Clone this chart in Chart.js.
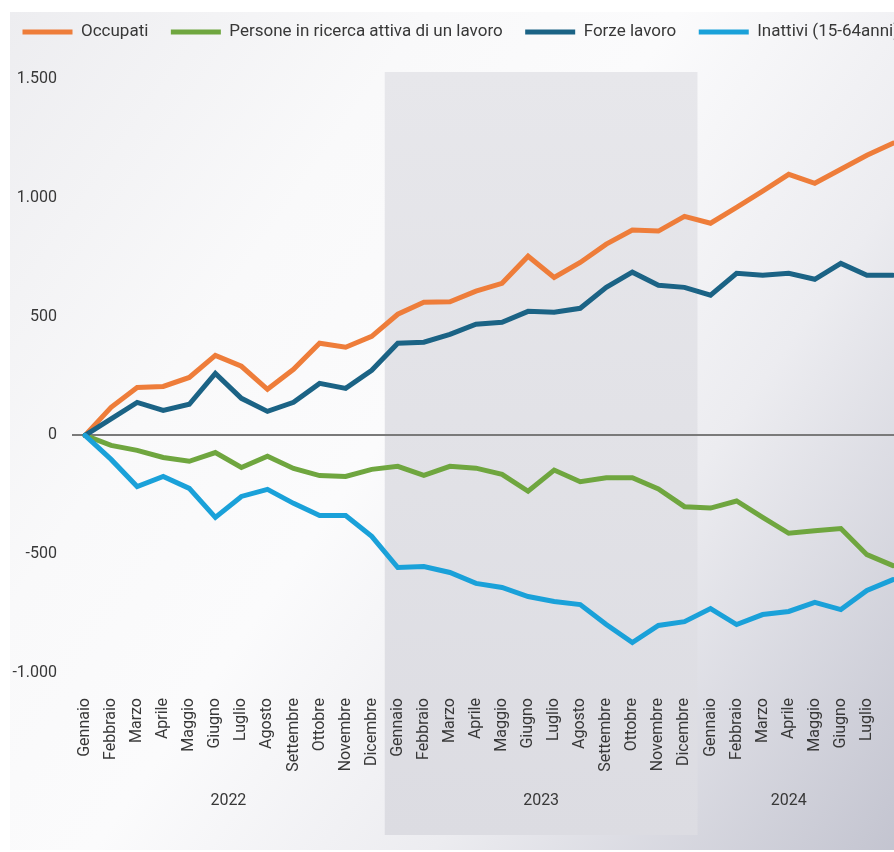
<!DOCTYPE html>
<html lang="it">
<head>
<meta charset="utf-8">
<title>Occupati, persone in cerca di lavoro, forze lavoro e inattivi</title>
<script src="https://cdn.jsdelivr.net/npm/chart.js@4.4.1/dist/chart.umd.min.js"></script>
<style>
    html, body { margin: 0; padding: 0; overflow: hidden; background: #fff; }
    .panel {
        position: absolute; left: 10px; top: 12px; width: 900px; height: 838px;
        background: linear-gradient(125deg, #ededf0 0%, #f9f9fa 28%, #fbfbfc 45%, #ececf0 68%, #c2c3cf 100%);
    }
    .wrap { position: absolute; left: 0; top: 0; width: 930px; height: 852px; }
</style>
</head>
<body>
<div class="panel"></div>
<div class="wrap"><canvas id="chart"></canvas></div>
<script>
const months = ['Gennaio', 'Febbraio', 'Marzo', 'Aprile', 'Maggio', 'Giugno',
    'Luglio', 'Agosto', 'Settembre', 'Ottobre', 'Novembre', 'Dicembre'];
// Gen 2022 -> Ago 2024 (the last month has no label in the original)
const categories = [...months, ...months, ...months.slice(0, 8)];
const labelledCount = 31;
const years = ['2022', '2023', '2024'];
const yearStart = [0, 12, 24];
const yearEnd = [11, 23, 30];

const occupati = [0, 118, 202, 206, 244, 337, 291, 194, 278, 388, 371, 417,
    510, 560, 562, 607, 640, 754, 665, 728, 805, 864, 860, 922,
    893, 960, 1028, 1099, 1061, 1120, 1179, 1230];
const inCerca = [0, -42, -63, -93, -109, -72, -135, -88, -139, -169, -173, -143,
    -130, -168, -130, -138, -164, -235, -146, -195, -178, -178, -225, -300,
    -306, -276, -345, -412, -401, -392, -502, -548];
const forzeLavoro = [0, 70, 139, 105, 131, 261, 156, 101, 139, 219, 198, 274,
    388, 392, 425, 468, 476, 522, 518, 535, 623, 687, 632, 623,
    590, 682, 674, 682, 657, 724, 674, 674];
const inattivi = [0, -101, -215, -173, -223, -345, -257, -227, -286, -337, -337, -425,
    -556, -552, -577, -623, -640, -678, -699, -712, -796, -872, -800, -784,
    -729, -796, -754, -741, -703, -733, -653, -607];

const yTicks = [-1000, -500, 0, 500, 1000, 1500];

const FONT = { family: 'Roboto, "Noto Sans", sans-serif', size: 16 };
const TEXT = '#383838';

function fmt(v) {
    const s = Math.abs(v).toString().replace(/\B(?=(\d{3})+(?!\d))/g, '.');
    return (v < 0 ? '-' : '') + s;
}

function line(label, data, color, order) {
    return {
        label, data, order,
        borderColor: color, backgroundColor: color,
        borderWidth: 5, borderCapStyle: 'round',
        pointRadius: 0, pointHoverRadius: 0, tension: 0
    };
}

// shaded band behind 2023 + year labels under the month labels
const yearPlugin = {
    id: 'years',
    beforeDraw(chart) {
        const { ctx, chartArea, scales: { x } } = chart;
        const half = (x.getPixelForValue(1) - x.getPixelForValue(0)) / 2;
        const left = x.getPixelForValue(yearStart[1]) - half;
        const right = x.getPixelForValue(yearEnd[1]) + half;
        const top = chartArea.top - 7;
        const bottom = chartArea.bottom + 162;
        const g = ctx.createLinearGradient(0, top, 0, bottom);
        g.addColorStop(0, '#e7e7eb');
        g.addColorStop(1, '#dcdce2');
        ctx.save();
        ctx.fillStyle = g;
        ctx.fillRect(left, top, right - left, bottom - top);
        ctx.restore();
    },
    afterDraw(chart) {
        const { ctx, chartArea, scales: { x } } = chart;
        ctx.save();
        ctx.font = `${FONT.size}px ${FONT.family}`;
        ctx.fillStyle = TEXT;
        ctx.textAlign = 'center';
        ctx.textBaseline = 'middle';
        years.forEach((y, i) => {
            const cx = (x.getPixelForValue(yearStart[i]) + x.getPixelForValue(yearEnd[i])) / 2;
            ctx.fillText(y, cx, chartArea.bottom + 128);
        });
        ctx.restore();
    }
};

const legendSpace = {
    id: 'legendSpace',
    beforeInit(chart) {
        const fit = chart.legend.fit;
        chart.legend.fit = function () {
            fit.bind(chart.legend)();
            this.height = 78;
        };
    }
};

new Chart(document.getElementById('chart'), {
    type: 'line',
    data: {
        labels: categories,
        datasets: [
            line('Occupati', occupati, '#ee7d3a', 4),
            line('Persone in ricerca attiva di un lavoro', inCerca, '#6fa63f', 3),
            line('Forze lavoro', forzeLavoro, '#1b6385', 2),
            line('Inattivi (15-64anni)', inattivi, '#1aa1d9', 1)
        ]
    },
    options: {
        responsive: true,
        maintainAspectRatio: false,
        animation: false,
        layout: { padding: { left: 0, top: 1, right: 0, bottom: 0 } },
        plugins: {
            tooltip: { enabled: false },
            legend: {
                position: 'top',
                align: 'start',
                labels: {
                    usePointStyle: true,
                    pointStyle: 'line',
                    pointStyleWidth: 50,
                    padding: 22.5,
                    font: { family: FONT.family, size: 17 },
                    color: TEXT,
                    sort: (a, b) => a.datasetIndex - b.datasetIndex
                }
            }
        },
        scales: {
            x: {
                offset: true,
                grid: { display: false, drawTicks: false },
                border: { display: false },
                ticks: {
                    autoSkip: false,
                    minRotation: 90,
                    maxRotation: 90,
                    padding: 25,
                    font: FONT,
                    color: TEXT,
                    callback: (v, i) => i < labelledCount ? categories[i] : ''
                },
                afterFit(scale) {
                    scale.height = 179;
                    scale.paddingLeft = 0;
                    scale.paddingRight = 0;
                }
            },
            y: {
                min: yTicks[0],
                max: yTicks[yTicks.length - 1],
                afterBuildTicks(scale) { scale.ticks = yTicks.map(v => ({ value: v })); },
                grid: {
                    drawTicks: false,
                    color: c => c.tick && c.tick.value === 0 ? '#7a7a7a' : 'rgba(0,0,0,0)',
                    lineWidth: 2
                },
                border: { display: false },
                ticks: {
                    padding: 15,
                    font: FONT,
                    color: TEXT,
                    callback: v => fmt(v)
                },
                afterFit(scale) { scale.width = 72; }
            },
            // empty spacer on the right: the plot runs past the visible edge
            y2: {
                position: 'right',
                grid: { display: false },
                border: { display: false },
                ticks: { display: false },
                afterFit(scale) { scale.width = 24; }
            }
        }
    },
    plugins: [yearPlugin, legendSpace]
});
</script>
</body>
</html>
